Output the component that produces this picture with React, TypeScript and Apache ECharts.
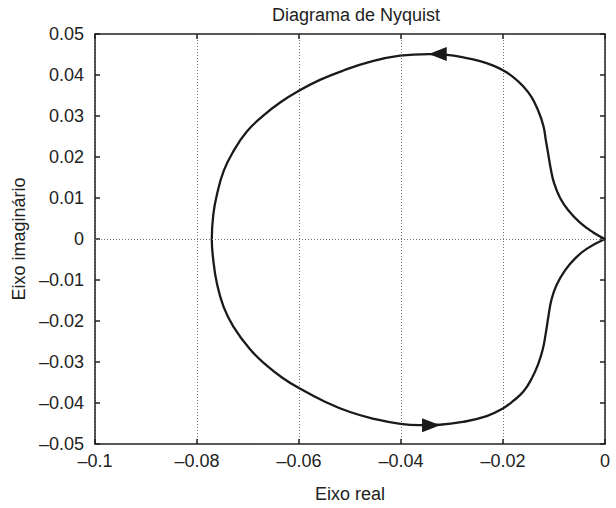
import React, { useEffect, useRef } from "react";
import * as echarts from "echarts";

// Nyquist curve (starting at the origin, upper half first)
const realPart: number[] = [
  0, -0.0023, -0.0049, -0.0072, -0.0088, -0.01, -0.0106, -0.0111, -0.0116, -0.0121,
  -0.0131, -0.0144, -0.016, -0.018, -0.0201, -0.0219, -0.0245, -0.0278, -0.031, -0.0345,
  -0.0402, -0.0461, -0.0513, -0.0559, -0.0601, -0.0637, -0.067, -0.0703, -0.0729, -0.0748,
  -0.0761, -0.0768, -0.0771, -0.0768, -0.0761, -0.0748, -0.0729, -0.0696, -0.0663, -0.0632,
  -0.0601, -0.0552, -0.05, -0.0448, -0.0401, -0.0363, -0.0324, -0.0278, -0.0232, -0.0201,
  -0.018, -0.016, -0.0144, -0.0131, -0.0122, -0.0116, -0.0111, -0.0105, -0.0095, -0.0078,
  -0.0059, -0.0036, 0,
];
const imagPart: number[] = [
  0, 0.0016, 0.004, 0.007, 0.01, 0.0137, 0.0169, 0.0205, 0.0241, 0.0277,
  0.0313, 0.0346, 0.0372, 0.0395, 0.0412, 0.0423, 0.0434, 0.0443, 0.0449, 0.0451,
  0.0447, 0.0432, 0.0411, 0.0388, 0.0361, 0.0333, 0.0301, 0.0261, 0.0213, 0.0165,
  0.0108, 0.006, 0, -0.0052, -0.0108, -0.0165, -0.0213, -0.0269, -0.0309, -0.0339,
  -0.0363, -0.0395, -0.0422, -0.044, -0.0451, -0.0454, -0.0453, -0.0446, -0.0432, -0.0414,
  -0.0395, -0.0372, -0.0341, -0.0305, -0.0269, -0.0229, -0.0189, -0.0148, -0.0112, -0.0076,
  -0.0048, -0.0024, 0,
];

// arrow markers
const arrowReal: number[] = [-0.0328, -0.0341];
const arrowImag: number[] = [0.0451, -0.0454];
const arrowRotate: number[] = [180, 0];

const xTicksMin = -0.1;
const xTicksMax = 0;
const xInterval = 0.02;
const yTicksMin = -0.05;
const yTicksMax = 0.05;
const yInterval = 0.01;

const titleText = "Diagrama de Nyquist";
const xName = "Eixo real";
const yName = "Eixo imaginário";

const FONT = "'Liberation Sans', Arial, sans-serif";
const FS = 18;

const fmt = (v: number) => {
  if (Math.abs(v) < 1e-12) return "0";
  const s = String(+v.toFixed(4));
  return s.replace("-", "\u2013");
};

export default function App() {
  const ref = useRef<HTMLDivElement>(null);
  useEffect(() => {
    if (!ref.current) return;
    const chart = echarts.init(ref.current, undefined, { renderer: "svg" });
    const curve = realPart.map((r, i) => [r, imagPart[i]]);
    const arrows = arrowReal.map((r, i) => ({
      value: [r, arrowImag[i]],
      symbolRotate: arrowRotate[i],
    }));
    const axisLine = { show: true, onZero: false, lineStyle: { color: "#222", width: 1.5 } };
    const tick = { show: true, inside: true, length: 5, lineStyle: { color: "#222", width: 1.5 } };
    chart.setOption({
      animation: false,
      backgroundColor: "#fff",
      title: {
        text: titleText,
        left: 351,
        top: 1,
        textAlign: "center",
        textStyle: { fontFamily: FONT, fontSize: FS, fontWeight: "normal", color: "#222" },
      },
      grid: { left: 95, right: 11, top: 34, bottom: 59 },
      xAxis: [
        {
          type: "value",
          min: xTicksMin,
          max: xTicksMax,
          interval: xInterval,
          position: "bottom",
          name: xName,
          nameLocation: "middle",
          nameGap: 41,
          nameTextStyle: { fontFamily: FONT, fontSize: FS, color: "#222" },
          axisLine,
          axisTick: tick,
          axisLabel: { fontFamily: FONT, fontSize: FS, color: "#222", margin: 8, formatter: fmt },
          splitLine: { show: true, lineStyle: { type: [1, 2], color: "#777", width: 1 } },
        },
        {
          type: "value",
          min: xTicksMin,
          max: xTicksMax,
          interval: xInterval,
          position: "top",
          axisLine,
          axisTick: tick,
          axisLabel: { show: false },
          splitLine: { show: false },
        },
      ],
      yAxis: [
        {
          type: "value",
          min: yTicksMin,
          max: yTicksMax,
          interval: yInterval,
          position: "left",
          name: yName,
          nameLocation: "middle",
          nameGap: 67,
          nameTextStyle: { fontFamily: FONT, fontSize: FS, color: "#222" },
          axisLine,
          axisTick: tick,
          axisLabel: { fontFamily: FONT, fontSize: FS, color: "#222", margin: 11, formatter: fmt },
          splitLine: { show: false },
        },
        {
          type: "value",
          min: yTicksMin,
          max: yTicksMax,
          interval: yInterval,
          position: "right",
          axisLine,
          axisTick: tick,
          axisLabel: { show: false },
          splitLine: { show: false },
        },
      ],
      series: [
        {
          type: "line",
          data: curve,
          smooth: 0.45,
          showSymbol: false,
          symbol: "none",
          lineStyle: { color: "#1a1a1a", width: 2.3 },
          markLine: {
            silent: true,
            symbol: "none",
            label: { show: false },
            lineStyle: { type: [1, 2], color: "#777", width: 1 },
            data: [{ yAxis: 0 }],
          },
          z: 3,
        },
        {
          type: "scatter",
          data: arrows,
          symbol: "path://M0,0L20,7L0,14Z",
          symbolSize: [18, 14],
          itemStyle: { color: "#1a1a1a", opacity: 1 },
          z: 4,
        },
      ],
    });
    return () => chart.dispose();
  }, []);
  return (
    <div
      ref={ref}
      style={{ position: "fixed", left: 0, top: 0, width: 616, height: 508, background: "#fff" }}
    />
  );
}
